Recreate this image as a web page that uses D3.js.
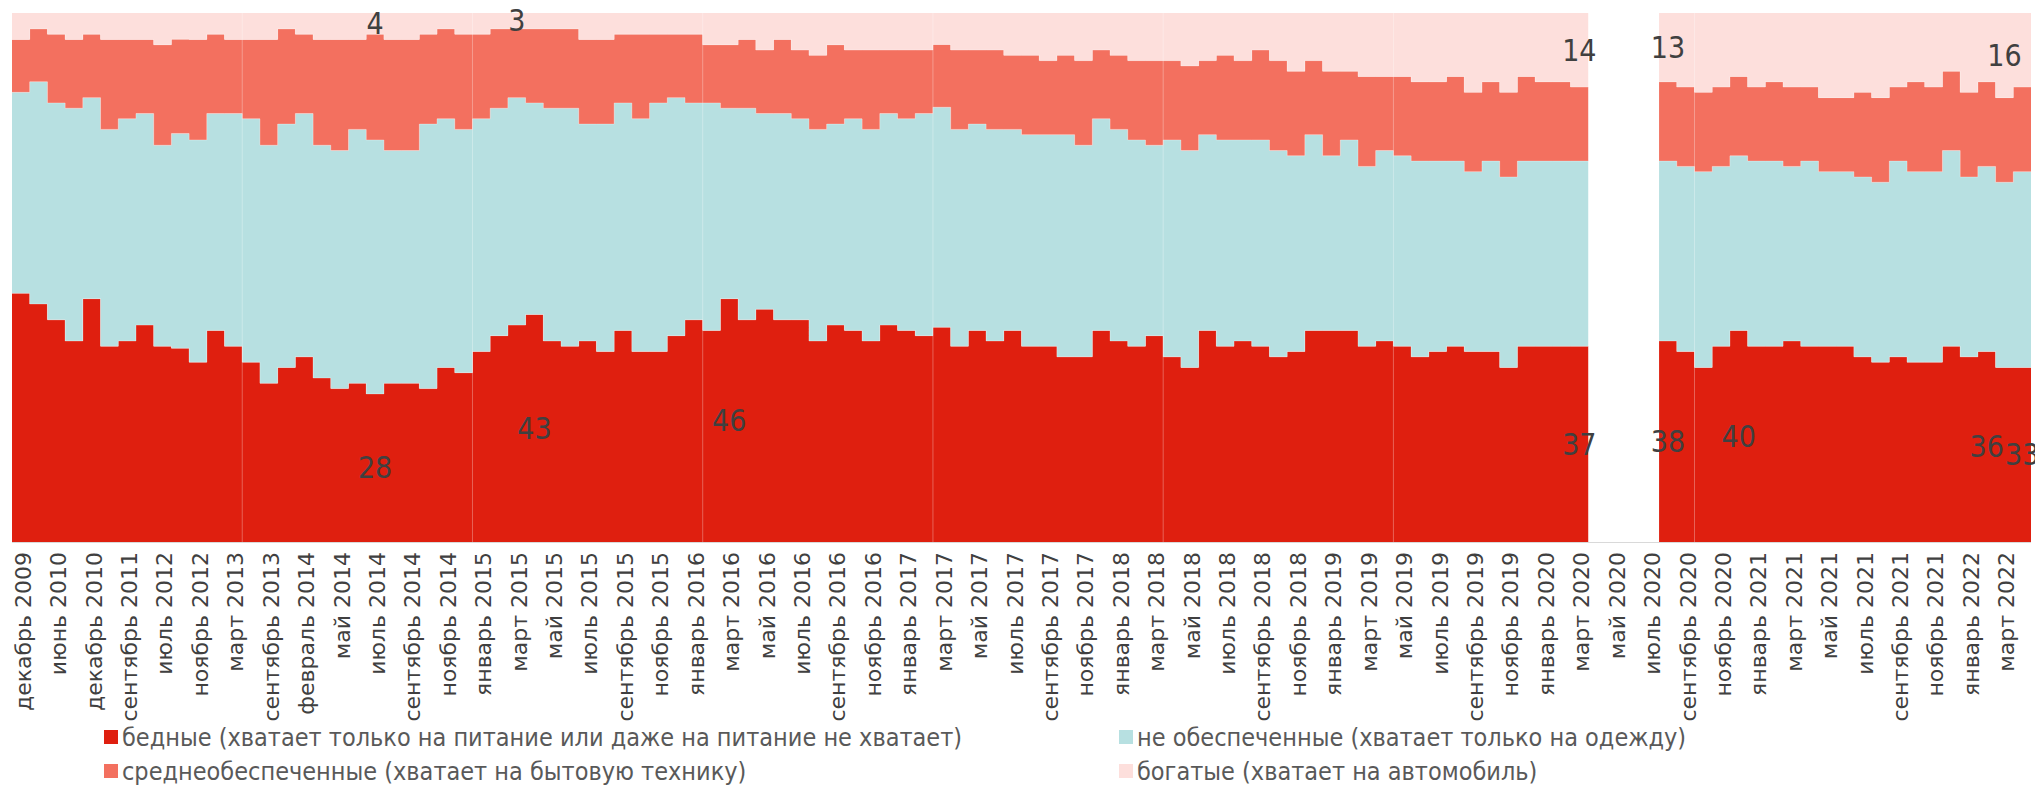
<!DOCTYPE html>
<html lang="ru">
<head>
  <meta charset="UTF-8">
  <title>Материальное положение</title>
  <script src="https://cdn.jsdelivr.net/npm/d3@7"></script>
  <style>
    body { margin: 0; background: #fff; }
    svg { display: block; }
    .tick-label { font-family: "DejaVu Sans", Verdana, sans-serif; font-size: 22px; fill: #404040; }
    .legend text { font-family: "Liberation Sans Narrow", "DejaVu Sans Condensed", sans-serif; font-size: 25px; fill: #595959; }
    .value-label { font-family: "Liberation Sans Narrow", "DejaVu Sans Condensed", sans-serif; font-size: 30px; fill: #404040; }
  </style>
</head>
<body>
<div id="chart"></div>

<script>
  // categories (every second one gets a tick label)
  var categories = [
    "декабрь 2009", "март 2010", "июнь 2010", "сентябрь 2010", "декабрь 2010", "март 2011",
    "сентябрь 2011", "декабрь 2011", "июль 2012", "сентябрь 2012", "ноябрь 2012", "январь 2013",
    "март 2013", "июнь 2013", "сентябрь 2013", "декабрь 2013", "февраль 2014", "апрель 2014",
    "май 2014", "июнь 2014", "июль 2014", "август 2014", "сентябрь 2014", "октябрь 2014",
    "ноябрь 2014", "декабрь 2014", "январь 2015", "февраль 2015", "март 2015", "апрель 2015",
    "май 2015", "июнь 2015", "июль 2015", "август 2015", "сентябрь 2015", "октябрь 2015",
    "ноябрь 2015", "декабрь 2015", "январь 2016", "февраль 2016", "март 2016", "апрель 2016",
    "май 2016", "июнь 2016", "июль 2016", "август 2016", "сентябрь 2016", "октябрь 2016",
    "ноябрь 2016", "декабрь 2016", "январь 2017", "февраль 2017", "март 2017", "апрель 2017",
    "май 2017", "июнь 2017", "июль 2017", "август 2017", "сентябрь 2017", "октябрь 2017",
    "ноябрь 2017", "декабрь 2017", "январь 2018", "февраль 2018", "март 2018", "апрель 2018",
    "май 2018", "июнь 2018", "июль 2018", "август 2018", "сентябрь 2018", "октябрь 2018",
    "ноябрь 2018", "декабрь 2018", "январь 2019", "февраль 2019", "март 2019", "апрель 2019",
    "май 2019", "июнь 2019", "июль 2019", "август 2019", "сентябрь 2019", "октябрь 2019",
    "ноябрь 2019", "декабрь 2019", "январь 2020", "февраль 2020", "март 2020", "апрель 2020",
    "май 2020", "июнь 2020", "июль 2020", "август 2020", "сентябрь 2020", "октябрь 2020",
    "ноябрь 2020", "декабрь 2020", "январь 2021", "февраль 2021", "март 2021", "апрель 2021",
    "май 2021", "июнь 2021", "июль 2021", "август 2021", "сентябрь 2021", "октябрь 2021",
    "ноябрь 2021", "декабрь 2021", "январь 2022", "февраль 2022", "март 2022", "апрель 2022"
  ];

  // % of respondents; null = no survey (spring/summer 2020)
  var poor = [
    47, 45, 42, 38, 46, 37, 38, 41, 37, 37, 34, 40, 37, 34, 30, 33, 35, 31, 29, 30,
    28, 30, 30, 29, 33, 32, 36, 39, 41, 43, 38, 37, 38, 36, 40, 36, 36, 39, 42, 40,
    46, 42, 44, 42, 42, 38, 41, 40, 38, 41, 40, 39, 41, 37, 40, 38, 40, 37, 37, 35,
    35, 40, 38, 37, 39, 35, 33, 40, 37, 38, 37, 35, 36, 40, 40, 40, 37, 38, 37, 35,
    36, 37, 36, 36, 33, 37, 37, 37, 37, null, null, null, null, 38, 36, 33, 37, 40, 37, 37,
    38, 37, 37, 37, 35, 34, 35, 34, 34, 37, 35, 36, 33, 33
  ];
  var notPoor = [
    38, 42, 41, 44, 38, 41, 42, 40, 38, 41, 42, 41, 44, 46, 45, 46, 46, 44, 45, 48,
    48, 44, 44, 50, 47, 46, 44, 43, 43, 40, 44, 45, 41, 43, 43, 44, 47, 45, 41, 43,
    36, 40, 37, 39, 38, 40, 38, 40, 40, 40, 40, 42, 42, 41, 39, 40, 38, 40, 40, 42,
    40, 40, 40, 39, 36, 41, 41, 37, 39, 38, 39, 39, 37, 37, 33, 36, 34, 36, 36, 37,
    36, 35, 34, 36, 36, 35, 35, 35, 35, null, null, null, null, 34, 35, 37, 34, 33, 35, 35,
    33, 35, 33, 33, 34, 34, 37, 36, 36, 37, 34, 35, 35, 37
  ];
  var middle = [
    10, 10, 13, 13, 12, 17, 15, 14, 19, 18, 19, 15, 14, 15, 20, 18, 15, 20, 21, 17,
    20, 21, 21, 17, 17, 18, 16, 15, 13, 14, 15, 15, 16, 16, 13, 16, 13, 12, 13, 11,
    12, 13, 12, 14, 13, 14, 15, 13, 15, 12, 13, 12, 12, 15, 14, 15, 14, 15, 14, 15,
    16, 13, 14, 15, 16, 15, 16, 14, 16, 15, 17, 17, 16, 14, 16, 13, 17, 14, 15, 15,
    15, 16, 15, 15, 16, 16, 15, 15, 14, null, null, null, null, 15, 15, 15, 15, 15, 14, 15,
    15, 14, 14, 14, 16, 16, 14, 17, 16, 15, 16, 16, 16, 16
  ];
  var rich = [
    5, 3, 4, 5, 4, 5, 5, 5, 6, 5, 5, 4, 5, 5, 5, 3, 4, 5, 5, 5,
    4, 5, 5, 4, 3, 4, 4, 3, 3, 3, 3, 3, 5, 5, 4, 4, 4, 4, 4, 6,
    6, 5, 7, 5, 7, 8, 6, 7, 7, 7, 7, 7, 6, 7, 7, 7, 8, 8, 9, 8,
    9, 7, 8, 9, 9, 9, 10, 9, 8, 9, 7, 9, 11, 9, 11, 11, 12, 12, 12, 13,
    13, 12, 15, 13, 15, 12, 13, 13, 14, null, null, null, null, 13, 14, 15, 14, 12, 14, 13,
    14, 14, 16, 16, 15, 16, 14, 13, 14, 11, 15, 13, 16, 14
  ];

  var seriesKeys = ["poor", "notPoor", "middle", "rich"];
  var seriesNames = [
    "бедные (хватает только на питание или даже на питание не хватает)",
    "не обеспеченные (хватает только на одежду)",
    "среднеобеспеченные (хватает на бытовую технику)",
    "богатые (хватает на автомобиль)"
  ];
  var seriesColors = ["#df1f0f", "#b7e0e1", "#f3705f", "#fddfdc"];

  // which values are written on the chart
  var shownLabels = [
    {key: "poor", i: 20}, {key: "rich", i: 20}, {key: "rich", i: 28}, {key: "poor", i: 29},
    {key: "poor", i: 40}, {key: "poor", i: 88}, {key: "rich", i: 88}, {key: "poor", i: 93},
    {key: "rich", i: 93}, {key: "poor", i: 97}, {key: "poor", i: 111}, {key: "rich", i: 112},
    {key: "poor", i: 113}
  ];

  // faint joins visible in the original fill
  var seams = [13, 26, 39, 52, 65, 78, 95];

  var width = 2035, height = 786;
  var margin = {top: 13, right: 4, bottom: 244, left: 12};

  var rows = categories.map(function(c, i) {
    return {cat: c, ok: poor[i] != null,
      poor: poor[i] || 0, notPoor: notPoor[i] || 0, middle: middle[i] || 0, rich: rich[i] || 0};
  });

  var svg = d3.select("#chart").append("svg")
    .attr("width", width)
    .attr("height", height);

  var x = d3.scaleBand()
    .domain(categories)
    .range([margin.left, width - margin.right])
    .padding(0);

  var y = d3.scaleLinear()
    .domain([0, 1])
    .range([height - margin.bottom, margin.top]);

  var stacked = d3.stack()
    .keys(seriesKeys)
    .offset(d3.stackOffsetExpand)(rows);

  // step shape: two points per category, at both band edges
  function stepPoints(layer) {
    var pts = [];
    layer.forEach(function(d, i) {
      var x0 = x(categories[i]);
      pts.push({x: x0, d: d, ok: rows[i].ok});
      pts.push({x: x0 + x.bandwidth(), d: d, ok: rows[i].ok});
    });
    return pts;
  }

  var area = d3.area()
    .defined(function(p) { return p.ok; })
    .x(function(p) { return p.x; })
    .y0(function(p) { return y(p.d[0]); })
    .y1(function(p) { return y(p.d[1]); });

  var topLine = d3.line()
    .defined(function(p) { return p.ok; })
    .x(function(p) { return p.x; })
    .y(function(p) { return y(p.d[1]); });

  svg.append("g").selectAll("path")
    .data(stacked)
    .enter()
    .append("path")
    .attr("fill", function(d, i) { return seriesColors[i]; })
    .attr("d", function(d) { return area(stepPoints(d)); });

  svg.append("g").selectAll("path")
    .data(stacked.slice(0, 3))
    .enter()
    .append("path")
    .attr("fill", "none")
    .attr("stroke", "#fff")
    .attr("stroke-opacity", 0.3)
    .attr("stroke-width", 1)
    .attr("d", function(d) { return topLine(stepPoints(d)); });

  svg.append("g").selectAll("line")
    .data(seams)
    .enter()
    .append("line")
    .attr("x1", function(i) { return x(categories[i]); })
    .attr("x2", function(i) { return x(categories[i]); })
    .attr("y1", y(1))
    .attr("y2", y(0))
    .attr("stroke", "#fff")
    .attr("stroke-opacity", 0.3);

  // baseline
  svg.append("line")
    .attr("x1", margin.left)
    .attr("x2", width - margin.right)
    .attr("y1", y(0) + 0.5)
    .attr("y2", y(0) + 0.5)
    .attr("stroke", "#d9d9d9");

  // x axis, every second category, rotated
  var xAxis = d3.axisBottom(x)
    .tickValues(categories.filter(function(c, i) { return i % 2 === 0; }))
    .tickSize(0);

  var gx = svg.append("g")
    .attr("transform", "translate(0," + y(0) + ")")
    .call(xAxis);
  gx.select(".domain").remove();
  gx.selectAll("text")
    .attr("class", "tick-label")
    .attr("transform", "rotate(-90)")
    .attr("text-anchor", "end")
    .attr("x", -10)
    .attr("y", 0)
    .attr("dy", "0.45em");

  // value labels in the middle of their segment
  svg.append("g").selectAll("text")
    .data(shownLabels)
    .enter()
    .append("text")
    .attr("class", "value-label")
    .attr("text-anchor", "middle")
    .attr("dominant-baseline", "central")
    .attr("x", function(d) { return x(categories[d.i]) + x.bandwidth() / 2; })
    .attr("y", function(d) {
      var seg = stacked[seriesKeys.indexOf(d.key)][d.i];
      return y((seg[0] + seg[1]) / 2);
    })
    .text(function(d) {
      var src = {poor: poor, notPoor: notPoor, middle: middle, rich: rich}[d.key];
      return src[d.i];
    });

  // legend, 2 x 2
  var legendPos = [[104, 737], [1119, 737], [104, 771], [1119, 771]];
  var legendOrder = [0, 1, 2, 3];
  var lg = svg.append("g").attr("class", "legend")
    .selectAll("g")
    .data(legendOrder)
    .enter()
    .append("g")
    .attr("transform", function(d, i) { return "translate(" + legendPos[i][0] + "," + legendPos[i][1] + ")"; });

  lg.append("rect")
    .attr("x", 0)
    .attr("y", -7)
    .attr("width", 14)
    .attr("height", 14)
    .attr("fill", function(d) { return seriesColors[d]; });

  lg.append("text")
    .attr("x", 18)
    .attr("dy", "0.35em")
    .text(function(d) { return seriesNames[d]; });
</script>
</body>
</html>
